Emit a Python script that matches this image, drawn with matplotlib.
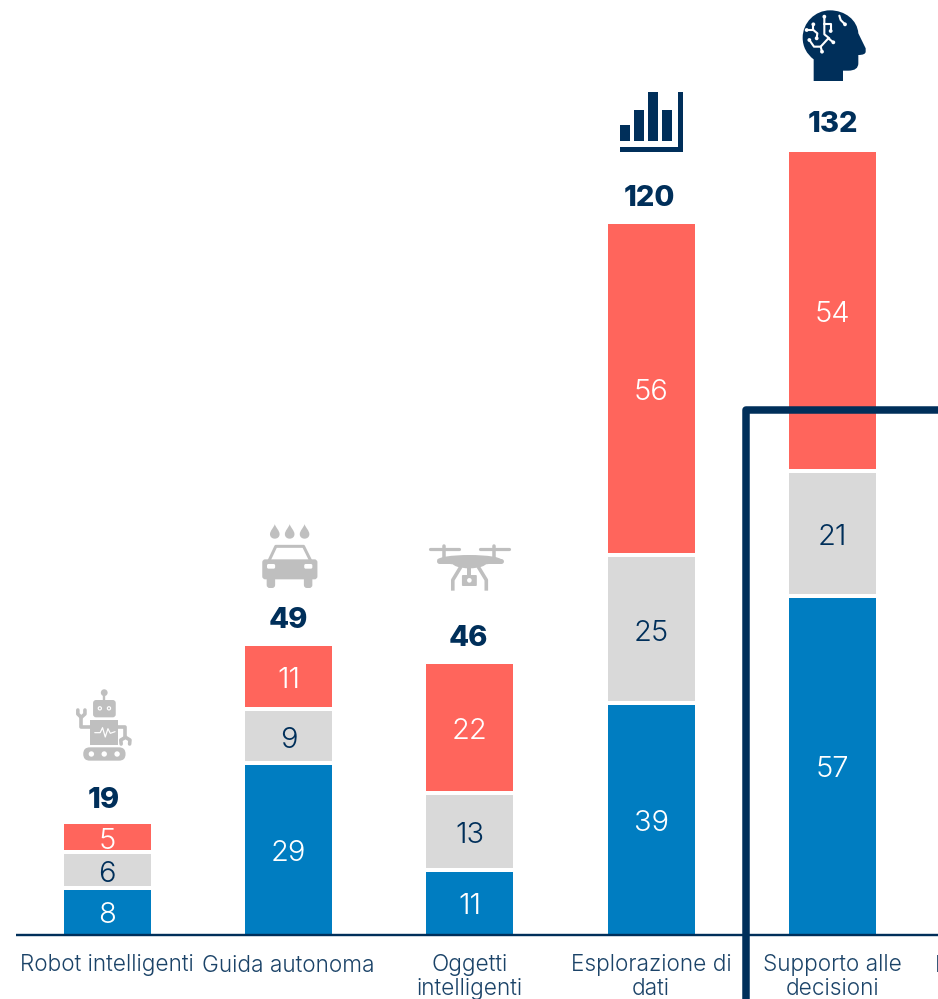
import matplotlib
matplotlib.use("Agg")
import matplotlib.pyplot as plt
from matplotlib.patches import Rectangle, Circle, Ellipse, FancyBboxPatch, PathPatch
from matplotlib.path import Path

# ---------- data ----------
categories = ["Robot intelligenti", "Guida autonoma", "Oggetti\nintelligenti",
              "Esplorazione di\ndati", "Supporto alle\ndecisioni"]
blue_values = [8, 29, 11, 39, 57]
gray_values = [6, 9, 13, 25, 21]
red_values = [5, 11, 22, 56, 54]
totals = [19, 49, 46, 120, 132]
cut_off_category = "Elaborazione del"

# ---------- style ----------
NAVY = "#002F5A"
TEXTNAVY = "#1B4368"
BLUE = "#007DC1"
GRAY = "#D9D9D9"
RED = "#FF655C"
ICON = "#BFBFBF"
W, H = 938, 999
FONT = "Inter"
px_w = 0.72  # 1 pixel in points at dpi 100
X0, DX = 107.0, 181.4
Y0, DY = 935.5, 5.95

fig = plt.figure(figsize=(W / 100, H / 100), dpi=100, facecolor="white")
ax = fig.add_axes([0, 0, 1, 1], facecolor="none")
ax.set_xlim(-X0 / DX, (W - X0) / DX)
ax.set_ylim(-(H - Y0) / DY, Y0 / DY)
ax.axis("off")

xs = list(range(len(categories)))
bottom = [0] * len(xs)
for vals, col, tcol in ((blue_values, BLUE, "white"), (gray_values, GRAY, NAVY), (red_values, RED, "white")):
    ax.bar(xs, vals, bottom=bottom, width=91 / DX, color=col,
           edgecolor="white", linewidth=4 * px_w, zorder=2)
    for x, b, v in zip(xs, bottom, vals):
        ax.annotate(str(v), (x, b + v / 2), xytext=(0, -1 * px_w), textcoords="offset points",
                    ha="center", va="center_baseline", color=tcol,
                    fontsize=21, fontweight=300, family=FONT, zorder=3)
    bottom = [b + v for b, v in zip(bottom, vals)]

total_nudge = [(-3, 25), (0, 26), (-1, 26), (-2, 26), (0, 29)]
for x, t, (dx, dy) in zip(xs, totals, total_nudge):
    ax.annotate(str(t), (x, t), xytext=(dx * px_w, dy * px_w), textcoords="offset points",
                ha="center", va="center_baseline", fontsize=21, fontweight=800,
                family=FONT, color=NAVY, zorder=3)

for x, c in zip(xs, categories):
    ax.annotate(c, (x, 0), xytext=(0, -19 * px_w), textcoords="offset points", ha="center", va="top",
                fontsize=16.3, fontweight=300, family=FONT, color=TEXTNAVY, linespacing=1.1, zorder=3)
ax.annotate(cut_off_category, (5, 0), xytext=(-79 * px_w, -19 * px_w), textcoords="offset points",
            ha="left", va="top", fontsize=16.3, fontweight=300, family=FONT, color=TEXTNAVY,
            annotation_clip=False)

# ---------- pixel overlay for baseline, frame, icons ----------
p = fig.add_axes([0, 0, 1, 1], facecolor="none")
p.set_xlim(0, W)
p.set_ylim(H, 0)
p.axis("off")
p.plot([16, W + 5], [935.4, 935.4], color=NAVY, lw=2.4 * px_w, solid_capstyle="butt", zorder=4)
p.plot([745.7, 745.7, W + 10], [H + 10, 410.3, 410.3], color=NAVY, lw=7.5 * px_w,
       solid_joinstyle="round", solid_capstyle="butt", zorder=5)


def rrect(x0, y0, x1, y1, r, color, z=6):
    p.add_patch(FancyBboxPatch((x0, y0), x1 - x0, y1 - y0, boxstyle=f"round,pad=0,rounding_size={r}",
                               fc=color, ec="none", zorder=z))


def stroke(pts, color, lw, cap="round", z=6):
    p.plot([a for a, _ in pts], [b for _, b in pts], color=color, lw=lw * px_w,
           solid_capstyle=cap, solid_joinstyle="round", zorder=z)


def rect(x0, y0, x1, y1, color, z=6):
    p.add_patch(Rectangle((x0, y0), x1 - x0, y1 - y0, fc=color, ec="none", zorder=z))


def circ(x, y, r, color, z=7):
    p.add_patch(Circle((x, y), r, fc=color, ec="none", zorder=z))


def z2(x, y):
    return x / 2.955, 500 + y / 3


def z2r(x0, y0, x1, y1):
    a = z2(x0, y0)
    b = z2(x1, y1)
    return a[0], a[1], b[0], b[1]


# bar-chart icon
rect(620, 125.3, 630.3, 141.3, NAVY)
rect(634, 110.3, 644.3, 141.3, NAVY)
rect(647.7, 92, 658, 141.3, NAVY)
rect(661.7, 110.3, 672, 141.3, NAVY)
rect(677.7, 92, 682.7, 151.7, NAVY)
rect(620, 146.7, 682.7, 151.7, NAVY)


# head icon
def h(x, y):
    return 600 + x / 3, y / 3


verts = [h(641, 243), h(641, 178),
         h(620, 162), h(608, 140), h(608, 113),
         h(608, 68), h(645, 31), h(690, 31),
         h(735, 31), h(772, 60), h(775, 100),
         h(797, 145), h(797, 155),
         h(797, 165), h(775, 165),
         h(775, 190), h(775, 212), h(745, 212),
         h(729, 212), h(729, 243), h(641, 243)]
C4, C3, L = Path.CURVE4, Path.CURVE3, Path.LINETO
codes = [Path.MOVETO, L,
         C4, C4, C4,
         C4, C4, C4,
         C4, C4, C4,
         L, L,
         C3, C3,
         L, C3, C3,
         L, L, Path.CLOSEPOLY]
p.add_patch(PathPatch(Path(verts, codes), fc=NAVY, ec="none", zorder=6))


def z6(x, y):
    return 790 + x / 3, 5 + y / 3


for line in ([(103, 35), (103, 88), (118, 100)],
             [(103, 58), (122, 58), (122, 78)],
             [(70, 58), (70, 75), (50, 75)],
             [(70, 75), (82, 85), (80, 100)],
             [(58, 105), (72, 125), (92, 125), (96, 140)],
             [(92, 125), (115, 100), (130, 112)],
             [(148, 32), (152, 45), (165, 58)]):
    stroke([z6(*q) for q in line], "white", 2.1, z=7)
for q in ((103, 35), (122, 78), (50, 75), (70, 58), (58, 105), (96, 140), (130, 112), (80, 100), (165, 58)):
    a, b = z6(*q)
    circ(a, b, 1.9, "white")

# car icon
for cx in (812, 856, 900):
    a, b = z2(cx, 95)
    p.add_patch(PathPatch(Path(
        [(a, b - 7.5), (a + 1, b - 4), (a + 4.8, b - 1), (a + 4.8, b + 2.5),
         (a + 4.8, b + 5.4), (a + 2.6, b + 7), (a, b + 7),
         (a - 2.6, b + 7), (a - 4.8, b + 5.4), (a - 4.8, b + 2.5),
         (a - 4.8, b - 1), (a - 1, b - 4), (a, b - 7.5)],
        [Path.MOVETO, C4, C4, C4, C4, C4, C4, C4, C4, C4, C4, C4, C4]),
        fc=ICON, ec="none", zorder=6))
stroke([z2(795, 182), z2(815, 139), z2(897, 139), z2(918, 182)], ICON, 3)
rrect(*z2r(775, 178, 938, 238), 3, ICON)
rrect(*z2r(788, 225, 813, 264), 3, ICON)
rrect(*z2r(898, 225, 923, 264), 3, ICON)
rrect(*z2r(789, 192, 813, 206), 1.5, "white", z=7)
rrect(*z2r(899, 192, 923, 206), 1.5, "white", z=7)

# drone icon
stroke([z2(1270, 148), z2(1356, 148)], ICON, 3.2)
stroke([z2(1419, 148), z2(1505, 148)], ICON, 3.2)
stroke([z2(1313, 138), z2(1313, 175)], ICON, 3.5)
stroke([z2(1461, 138), z2(1461, 175)], ICON, 3.5)
stroke([z2(1296, 183), z2(1479, 183)], ICON, 5)
ex, ey = z2(1387, 180)
p.add_patch(Ellipse((ex, ey), 190 / 2.955, 30 / 3, fc=ICON, ec="none", zorder=6))
p.add_patch(Ellipse((ex, ey + 3), 100 / 2.955, 32 / 3, fc=ICON, ec="none", zorder=6))
stroke([z2(1362, 200), z2(1338, 240), z2(1338, 272)], ICON, 3.6, cap="butt")
stroke([z2(1413, 200), z2(1437, 240), z2(1437, 272)], ICON, 3.6, cap="butt")
stroke([z2(1387, 190), z2(1387, 228)], ICON, 4)
rrect(*z2r(1365, 225, 1409, 258), 1, ICON)
a, b = z2(1387, 241)
circ(a, b, 2.3, "white")

# robot icon
rrect(*z2r(275, 600, 342, 652), 3, ICON)
for cx in (295, 322):
    a, b = z2(cx, 625)
    circ(a, b, 2.2, "white")
    circ(a, b, 1.0, ICON, z=8)
a, b = z2(308, 578)
circ(a, b, 3.4, ICON, z=6)
stroke([z2(308, 578), z2(308, 600)], ICON, 2.4)
rect(*z2r(266, 660, 350, 734), ICON)
stroke([z2(280, 698), z2(296, 698), z2(303, 683), z2(311, 711), z2(319, 686), z2(326, 700), z2(340, 695)],
       "white", 1.2, z=7)
stroke([z2(266, 680), z2(240, 680), z2(240, 650)], ICON, 3.6)
stroke([z2(230, 630), z2(230, 642), z2(240, 652), z2(251, 642), z2(251, 630)], ICON, 3.6)
stroke([z2(350, 680), z2(370, 680), z2(370, 710)], ICON, 3.6)
stroke([z2(358, 732), z2(357, 720), z2(371, 712), z2(384, 720), z2(383, 732)], ICON, 3.6)
rrect(*z2r(246, 742, 371, 782), 6.5, ICON)
for cx in (270, 308, 346):
    a, b = z2(cx, 762)
    circ(a, b, 2.7, "white")

fig.savefig("out.png", dpi=100, facecolor="white")
